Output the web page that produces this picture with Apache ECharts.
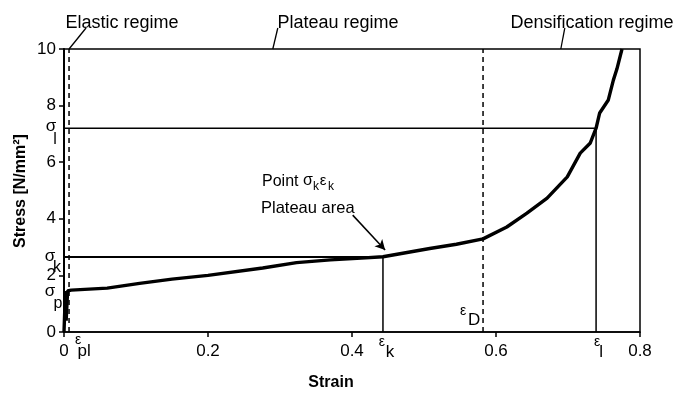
<!DOCTYPE html>
<html>
<head>
<meta charset="utf-8">
<script src="https://cdn.jsdelivr.net/npm/echarts@6/dist/echarts.min.js"></script>
<style>
  html, body { margin: 0; padding: 0; background: #fff; }
  #chart { width: 677px; height: 394px; }
</style>
</head>
<body>
<div id="chart"></div>
<script>
// stress-strain curve
const strain = [0, 0.002, 0.003, 0.005, 0.01, 0.06, 0.105, 0.15, 0.2, 0.276, 0.323, 0.37, 0.407, 0.443, 0.508, 0.545, 0.582, 0.615, 0.643, 0.671, 0.699, 0.717, 0.731, 0.739, 0.744, 0.756, 0.763, 0.768, 0.775];
const stress = [0, 1.45, 0.4, 1.45, 1.48, 1.55, 1.72, 1.87, 2.0, 2.26, 2.45, 2.55, 2.6, 2.66, 2.95, 3.1, 3.29, 3.71, 4.2, 4.73, 5.48, 6.32, 6.68, 7.2, 7.74, 8.2, 8.9, 9.3, 10];

// characteristic points
const epsPl = 0.007;
const epsK = 0.443;
const sigK = 2.65;
const epsD = 0.582;
const epsL = 0.739;
const sigL = 7.2;
const sigP = 1.45;

const xMin = 0, xMax = 0.8, xStep = 0.2;
const yMin = 0, yMax = 10, yStep = 2;

const regimeLabels = ['Elastic regime', 'Plateau regime', 'Densification regime'];
const regimeAt = [epsPl, 0.29, 0.69]; // where each leader line touches the top border

const font = '"Liberation Sans", Arial, sans-serif';
const chart = echarts.init(document.getElementById('chart'));

function seg(pts, dashed, w) {
    return {
        type: 'line',
        data: pts,
        symbol: 'none',
        silent: true,
        lineStyle: { color: '#000', width: w || 1.5, type: dashed ? [5, 4] : 'solid' },
        z: 3
    };
}

chart.setOption({
    backgroundColor: '#fff',
    animation: false,
    grid: { left: 64, right: 37, top: 49, bottom: 62, show: true, borderColor: '#000', borderWidth: 1.5 },
    xAxis: {
        type: 'value', min: xMin, max: xMax, interval: xStep,
        axisLine: { lineStyle: { color: '#000', width: 1.5 } },
        axisTick: { length: 5, lineStyle: { color: '#000', width: 1.5 } },
        axisLabel: { color: '#000', fontSize: 17, fontFamily: font, margin: 11 },
        splitLine: { show: false }
    },
    yAxis: {
        type: 'value', min: yMin, max: yMax, interval: yStep,
        axisLine: { lineStyle: { color: '#000', width: 2 } },
        axisTick: { length: 5, lineStyle: { color: '#000', width: 1.5 } },
        axisLabel: { color: '#000', fontSize: 17, fontFamily: font, margin: 8 },
        splitLine: { show: false }
    },
    series: [
        {
            type: 'line',
            data: strain.map((s, i) => [s, stress[i]]),
            symbol: 'none',
            lineStyle: { color: '#000', width: 3.4 },
            z: 5,
            markLine: {
                silent: true,
                symbol: ['none', 'arrow'],
                symbolSize: [8, 10],
                lineStyle: { color: '#000', width: 1.5, type: 'solid' },
                label: { show: false },
                data: [[{ coord: [0.401, 4.13] }, { coord: [0.446, 2.9] }]]
            }
        },
        seg([[xMin, sigK], [epsK, sigK]], false, 2),
        seg([[epsK, sigK], [epsK, yMin]]),
        seg([[xMin, sigL], [epsL, sigL]]),
        seg([[epsL, sigL], [epsL, yMin]]),
        seg([[epsPl, yMin], [epsPl, yMax]], true),
        seg([[epsD, yMin], [epsD, yMax]], true)
    ]
});

function px(x, y) { return chart.convertToPixel({ gridIndex: 0 }, [x, y]); }

function txt(x, y, s, size, extra) {
    return Object.assign({
        type: 'text', x: x, y: y, silent: true,
        style: { text: s, fill: '#000', font: (size || 17) + 'px ' + font, align: 'center', verticalAlign: 'middle' }
    }, extra || {});
}

const g = [];
// sigma labels on the stress axis
let p = px(0, sigL);
g.push(txt(p[0] - 13, p[1] - 2, 'σ', 17), txt(p[0] - 9, p[1] + 11, 'l', 16));
p = px(0, sigK);
g.push(txt(p[0] - 14, p[1] - 1, 'σ', 17), txt(p[0] - 7, p[1] + 11, 'k', 16));
p = px(0, sigP);
g.push(txt(p[0] - 14, p[1], 'σ', 17), txt(p[0] - 6, p[1] + 13, 'p', 16));
// epsilon labels on the strain axis
p = px(epsPl, 0);
g.push(txt(p[0] + 9, p[1] + 8, 'ε', 14), txt(p[0] + 15, p[1] + 19, 'pl', 17));
p = px(epsK, 0);
g.push(txt(p[0] - 1, p[1] + 10, 'ε', 14), txt(p[0] + 7, p[1] + 20, 'k', 17));
p = px(epsD, 0);
g.push(txt(p[0] - 20, p[1] - 21, 'ε', 14), txt(p[0] - 9, p[1] - 12, 'D', 17));
p = px(epsL, 0);
g.push(txt(p[0] + 1, p[1] + 10, 'ε', 14), txt(p[0] + 5, p[1] + 20, 'l', 17));

// regime labels with leader lines
const leaderDx = [17, 5, 4];
const labelX = [122, 338, 592];
regimeLabels.forEach((s, i) => {
    const a = px(regimeAt[i], yMax);
    g.push({
        type: 'line', silent: true,
        shape: { x1: a[0], y1: a[1], x2: a[0] + leaderDx[i], y2: a[1] - 21 },
        style: { stroke: '#000', lineWidth: 1.3 }
    });
    g.push(txt(labelX[i], 23, s, 18));
});

// plateau annotation
const left = { fill: '#000', align: 'left', verticalAlign: 'middle' };
g.push({ type: 'text', silent: true, x: 262, y: 182, style: Object.assign({ text: 'Point', font: '16px ' + font }, left) });
g.push(txt(308, 181, 'σ', 16), txt(316, 187, 'k', 12), txt(323, 181, 'ε', 15), txt(331, 187, 'k', 12));
g.push({ type: 'text', silent: true, x: 261, y: 208, style: Object.assign({ text: 'Plateau area', font: '16.5px ' + font }, left) });

// axis titles
g.push(txt(331, 383, 'Strain', 0, { style: { text: 'Strain', fill: '#000', font: 'bold 16px ' + font, align: 'center', verticalAlign: 'middle' } }));
g.push({
    type: 'text', silent: true, x: 21, y: 191, rotation: Math.PI / 2,
    style: { text: 'Stress [N/mm²]', fill: '#000', font: 'bold 16px ' + font, align: 'center', verticalAlign: 'middle' }
});

chart.setOption({ graphic: g });
</script>
</body>
</html>
